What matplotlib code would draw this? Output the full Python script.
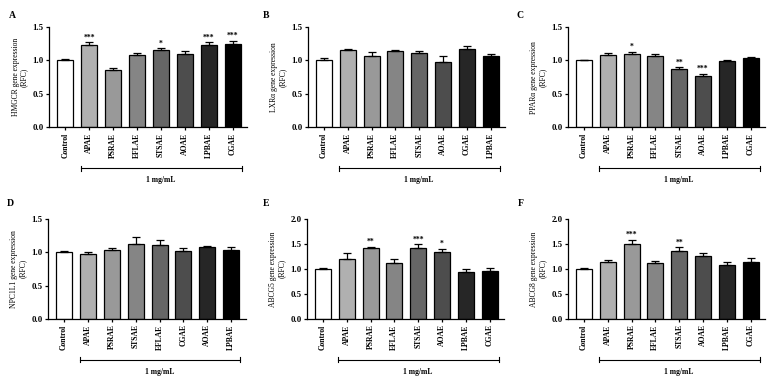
import numpy as np
import matplotlib
matplotlib.use("Agg")
import matplotlib.pyplot as plt

plt.rcParams['font.family'] = ['Liberation Serif', 'DejaVu Serif']
plt.rcParams['font.weight'] = 'bold'

# data
labels_a = ["Control", "APAE", "PSRAE", "EFLAE", "STSAE", "AOAE", "LPBAE", "CGAE"]
hmgcr = [1.00, 1.23, 0.85, 1.08, 1.15, 1.09, 1.23, 1.25]
hmgcr_err = [0.02, 0.04, 0.035, 0.03, 0.03, 0.045, 0.04, 0.04]
hmgcr_sig = ["", "***", "", "", "*", "", "***", "***"]

labels_b = ["Control", "APAE", "PSRAE", "EFLAE", "STSAE", "AOAE", "CGAE", "LPBAE"]
lxra = [1.00, 1.15, 1.07, 1.14, 1.11, 0.98, 1.17, 1.07]
lxra_err = [0.03, 0.02, 0.06, 0.015, 0.03, 0.09, 0.045, 0.03]
lxra_sig = ["", "", "", "", "", "", "", ""]

labels_c = ["Control", "APAE", "PSRAE", "EFLAE", "STSAE", "AOAE", "LPBAE", "CGAE"]
ppara = [1.00, 1.08, 1.10, 1.07, 0.87, 0.77, 0.99, 1.03]
ppara_err = [0.01, 0.03, 0.03, 0.03, 0.025, 0.03, 0.015, 0.02]
ppara_sig = ["", "", "*", "", "**", "***", "", ""]

labels_d = ["Control", "APAE", "PSRAE", "STSAE", "EFLAE", "CGAE", "AOAE", "LPBAE"]
npc1l1 = [1.00, 0.97, 1.03, 1.13, 1.11, 1.02, 1.08, 1.04]
npc1l1_err = [0.015, 0.04, 0.035, 0.10, 0.07, 0.04, 0.02, 0.035]
npc1l1_sig = ["", "", "", "", "", "", "", ""]

labels_e = ["Control", "APAE", "PSRAE", "EFLAE", "STSAE", "AOAE", "LPBAE", "CGAE"]
abcg5 = [1.00, 1.19, 1.41, 1.11, 1.41, 1.33, 0.94, 0.96]
abcg5_err = [0.02, 0.12, 0.03, 0.09, 0.08, 0.07, 0.06, 0.05]
abcg5_sig = ["", "", "**", "", "***", "*", "", ""]

labels_f = ["Control", "APAE", "PSRAE", "EFLAE", "STSAE", "AOAE", "LPBAE", "CGAE"]
abcg8 = [1.00, 1.13, 1.50, 1.11, 1.35, 1.25, 1.08, 1.13]
abcg8_err = [0.01, 0.04, 0.08, 0.05, 0.08, 0.06, 0.06, 0.09]
abcg8_sig = ["", "", "***", "", "**", "", "", ""]

bar_colors = ["#ffffff", "#b0b0b0", "#999999", "#858585", "#666666", "#4d4d4d", "#262626", "#000000"]

panels = [
    ("A", labels_a, hmgcr, hmgcr_err, hmgcr_sig, "HMGCR gene expression\n(RFC)", 1.5, [0.064, 0.662, 0.257, 0.266], (12, 15)),
    ("B", labels_b, lxra, lxra_err, lxra_sig, "LXR\u03b1 gene expression\n(RFC)", 1.5, [0.4005, 0.662, 0.256, 0.266], (266, 15)),
    ("C", labels_c, ppara, ppara_err, ppara_sig, "PPAR\u03b1 gene expression\n(RFC)", 1.5, [0.7386, 0.662, 0.256, 0.266], (520, 15)),
    ("D", labels_d, npc1l1, npc1l1_err, npc1l1_sig, "NPC1L1 gene expression\n(RFC)", 1.5, [0.0624, 0.152, 0.257, 0.266], (10, 203)),
    ("E", labels_e, abcg5, abcg5_err, abcg5_sig, "ABCG5 gene expression\n(RFC)", 2.0, [0.3992, 0.152, 0.256, 0.266], (266, 204)),
    ("F", labels_f, abcg8, abcg8_err, abcg8_sig, "ABCG8 gene expression\n(RFC)", 2.0, [0.7386, 0.152, 0.256, 0.266], (521, 204)),
]

fig = plt.figure(figsize=(7.69, 3.76), dpi=100)

for letter, labels, vals, errs, sig, ylab, ymax, rect, lpos in panels:
    ax = fig.add_axes(rect)
    x = np.arange(len(labels))
    ax.bar(x, vals, width=0.67, color=bar_colors, edgecolor="black", linewidth=0.9, zorder=2)
    ax.errorbar(x, vals, yerr=[np.zeros(len(vals)), errs], fmt="none", ecolor="black",
                elinewidth=0.9, capsize=2.8, capthick=0.9, zorder=3)
    for xi, v, e, s in zip(x, vals, errs, sig):
        if s:
            ax.text(xi, v + e + ymax * 0.01, s, ha="center", va="bottom", fontsize=5.5)
    ax.set_xlim(-0.67, 7.6)
    ax.set_ylim(0, ymax)
    ax.set_yticks(np.arange(0, ymax + 0.01, 0.5))
    ax.set_yticklabels(["%.1f" % t for t in np.arange(0, ymax + 0.01, 0.5)], fontsize=6.3)
    ax.set_xticks(x)
    ax.set_xticklabels(labels, rotation=90, fontsize=5.5)
    ax.tick_params(axis="both", length=2.5, width=0.9, pad=1.5)
    ax.spines["top"].set_visible(False)
    ax.spines["right"].set_visible(False)
    ax.spines["left"].set_linewidth(0.9)
    ax.spines["bottom"].set_linewidth(0.9)
    ax.set_ylabel(ylab, fontsize=5.5, labelpad=3, linespacing=1.1)
    # bracket for the treated groups
    trans = ax.get_xaxis_transform()
    ax.plot([0.65, 7.38], [-0.41, -0.41], color="black", lw=0.8, transform=trans, clip_on=False)
    for xe in (0.65, 7.38):
        ax.plot([xe, xe], [-0.385, -0.435], color="black", lw=0.8, transform=trans, clip_on=False)
    ax.text(4.0, -0.53, "1 mg/mL", ha="center", va="center", fontsize=5.5, transform=trans)
    fig.text(lpos[0] / 769, 1 - lpos[1] / 376, letter, ha="center", va="center", fontsize=7)

fig.savefig("out.png", dpi=100)
